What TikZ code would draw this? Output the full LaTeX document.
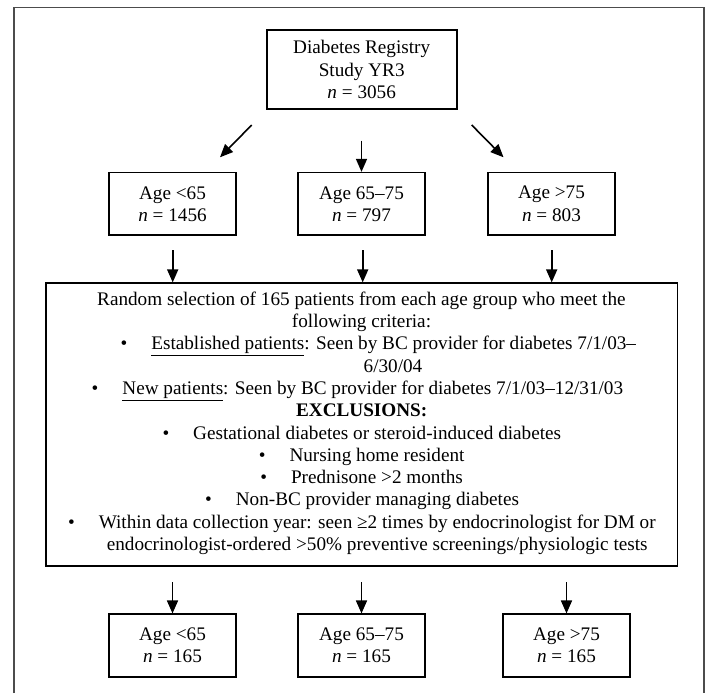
\documentclass[tikz,border=0pt]{standalone}
\usepackage{fontspec}
\setmainfont{Liberation Serif}
\usetikzlibrary{arrows.meta}
\newcommand{\mybul}{\llap{•\hspace{24pt}}}
\begin{document}
\begin{tikzpicture}[x=1pt,y=-1pt,
  box/.style={draw=black,line width=1.6pt,rectangle,inner sep=0pt,align=center,
    font=\fontsize{19.2}{22.3}\selectfont},
  agebox/.style={box,minimum width=127pt,minimum height=62.5pt},
  txt/.style={inner sep=0pt,font=\fontsize{19.2}{22.3}\selectfont,text height=13pt,text depth=4pt},
  arr/.style={line width=1.6pt,-{Triangle[width=11pt,length=13pt]}},
  outerframe/.style={draw=black!70,line width=1.3pt}]

\path[fill=white] (0,0) rectangle (710,693);
\draw[outerframe] (14,693) -- (14,7.3) -- (704,7.3) -- (704,693);

% top box
\node[box,minimum width=190pt,minimum height=79pt] (top) at (361.7,69.5)
  {Diabetes Registry\\Study YR3\\\textit{n} = 3056};

% age boxes
\node[agebox] (age1) at (172.5,203.9) {Age <65\\\textit{n} = 1456};
\node[agebox] (age2) at (361.5,203.9) {Age 65--75\\\textit{n} = 797};
\node[agebox] (age3) at (551.5,203.9) {Age >75\\\textit{n} = 803};

% big selection box
\node[box,minimum width=631.6pt,minimum height=283pt] (big) at (361.7,424.7) {};
\node[txt] (l1) at (361.4,300.7) {Random selection of 165 patients from each age group who meet the};
\node[txt] (l2) at (361.5,323.0) {following criteria:};
\node[txt] (l3) at (393.7,345.3) {\mybul\underline{Established patients}: Seen by BC provider for diabetes 7/1/03--};
\node[txt] (l4) at (393.0,367.6) {6/30/04};
\node[txt] (l5) at (372.8,389.9) {\mybul\underline{New patients}: Seen by BC provider for diabetes 7/1/03--12/31/03};
\node[txt] (l6) at (361.7,412.2) {\textbf{EXCLUSIONS:}};
\node[txt] (l7) at (377.2,434.5) {\mybul Gestational diabetes or steroid-induced diabetes};
\node[txt] (l8) at (377.0,456.8) {\mybul Nursing home resident};
\node[txt] (l9) at (377.0,479.1) {\mybul Prednisone >2 months};
\node[txt] (l10) at (377.4,501.4) {\mybul Non-BC provider managing diabetes};
\node[txt] (l11) at (377.2,523.7) {\mybul Within data collection year: seen ≥2 times by endocrinologist for DM or};
\node[txt] (l12) at (377.2,546.0) {endocrinologist-ordered >50\% preventive screenings/physiologic tests};

% final boxes
\node[agebox] (fin1) at (172.5,645.5) {Age <65\\\textit{n} = 165};
\node[agebox] (fin2) at (361.5,645.5) {Age 65--75\\\textit{n} = 165};
\node[agebox] (fin3) at (566.5,645.5) {Age >75\\\textit{n} = 165};

% arrows from top box
\coordinate (d1s) at (251.7,125);
\coordinate (d1e) at (220,157.3);
\coordinate (d2s) at (361.5,140.7);
\coordinate (d3s) at (471.7,125);
\coordinate (d3e) at (503.5,157.3);
\draw[arr] (d1s) -- (d1e);
\draw[arr] (d2s) -- (age2.north);
\draw[arr] (d3s) -- (d3e);

% arrows into big box
\coordinate (m1s) at (172.7,250);
\coordinate (m2s) at (362.7,250);
\coordinate (m3s) at (551.7,250);
\draw[arr] (m1s) -- (m1s |- big.north);
\draw[arr] (m2s) -- (m2s |- big.north);
\draw[arr] (m3s) -- (m3s |- big.north);

% arrows to final boxes
\coordinate (b1s) at (172.5,582);
\coordinate (b2s) at (361.5,582);
\coordinate (b3s) at (566.5,582);
\draw[arr] (b1s) -- (fin1.north);
\draw[arr] (b2s) -- (fin2.north);
\draw[arr] (b3s) -- (fin3.north);
\end{tikzpicture}
\end{document}
